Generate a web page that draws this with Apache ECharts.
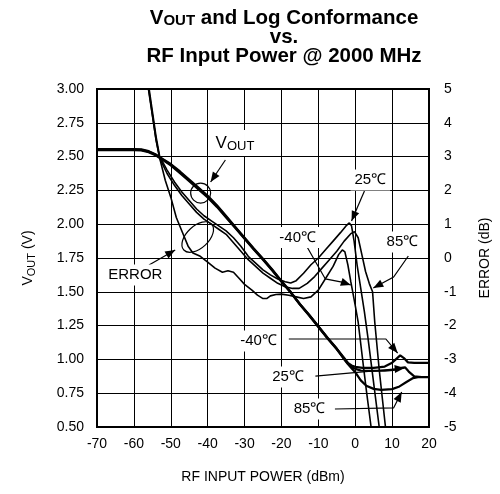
<!DOCTYPE html>
<html><head><meta charset="utf-8">
<script src="https://cdn.jsdelivr.net/npm/echarts@6/dist/echarts.min.js"></script>
<style>html,body{margin:0;padding:0;background:#fff}#c{width:500px;height:494px}</style>
</head><body><div id="c"></div>
<script>
// ---------- data ----------
const xMin = -70, xMax = 20, xStep = 10;
const vMin = 0.5, vMax = 3.0, vStep = 0.25;
const eMin = -5, eMax = 5, eStep = 1;

const voutM40 = [[-70,2.555],[-60,2.555],[-58,2.553],[-56,2.54],[-54,2.515],[-52,2.48],[-50,2.445],[-47.5,2.39],[-45,2.33],[-42.5,2.27],[-40,2.21],[-37.5,2.14],[-35,2.06],[-32.5,1.98],[-30,1.90],[-27.5,1.82],[-25,1.745],[-22.5,1.665],[-20,1.58],[-17.5,1.50],[-15,1.41],[-12.5,1.33],[-10,1.245],[-7.5,1.16],[-5,1.08],[-3,1.01],[-2,0.975],[-1,0.955],[0,0.945],[2,0.937],[5,0.937],[8,0.947],[10,0.975],[11,1.0],[12.2,1.03],[13.2,1.01],[14.3,0.978],[16,0.975],[20,0.975]];
const vout25 = [[-70,2.548],[-60,2.548],[-58,2.546],[-56,2.533],[-54,2.508],[-52,2.472],[-50,2.435],[-47.5,2.378],[-45,2.318],[-42.5,2.258],[-40,2.198],[-37.5,2.128],[-35,2.05],[-32.5,1.972],[-30,1.892],[-27.5,1.812],[-25,1.737],[-22.5,1.658],[-20,1.574],[-17.5,1.494],[-15,1.405],[-12.5,1.325],[-10,1.24],[-7.5,1.155],[-5,1.075],[-3,1.005],[-2,0.97],[-1,0.945],[0,0.93],[1.5,0.918],[4,0.915],[8,0.916],[11,0.925],[12.5,0.937],[13.5,0.942],[14.5,0.91],[16,0.875],[18,0.87],[20,0.87]];
const vout85 = [[-70,2.552],[-60,2.552],[-58,2.55],[-56,2.537],[-54,2.512],[-52,2.476],[-50,2.44],[-47.5,2.384],[-45,2.324],[-42.5,2.264],[-40,2.204],[-37.5,2.134],[-35,2.055],[-32.5,1.976],[-30,1.896],[-27.5,1.816],[-25,1.741],[-22.5,1.662],[-20,1.577],[-17.5,1.497],[-15,1.408],[-12.5,1.328],[-10,1.243],[-7.5,1.158],[-5,1.078],[-3,1.0],[-2,0.965],[-1,0.935],[0,0.905],[1.5,0.845],[3,0.805],[5,0.782],[7,0.775],[10,0.78],[12,0.80],[14,0.835],[15.7,0.862],[17,0.868],[20,0.868]];

const errM40 = [[-58,6.5],[-56,5.0],[-54,3.5],[-53,2.95],[-51.5,2.3],[-50,1.8],[-48.5,1.2],[-47,0.8],[-45.3,0.35],[-44,0.15],[-42,0.05],[-40,-0.12],[-38,-0.3],[-36,-0.42],[-34.5,-0.38],[-33,-0.42],[-31.5,-0.6],[-30,-0.78],[-28,-0.95],[-26.5,-1.1],[-25,-1.2],[-24,-1.2],[-23,-1.12],[-21.5,-1.08],[-20,-1.07],[-18,-1.1],[-16,-1.15],[-14,-1.2],[-12,-1.15],[-10,-0.95],[-8,-0.6],[-6,-0.25],[-4.5,0.1],[-3.5,0.24],[-2.8,0.18],[-2,-0.2],[-1.2,-0.7],[0,-1.4],[0.8,-1.9],[2,-3.0],[3,-3.9],[4.3,-5.0],[5,-5.6]];
const err25 = [[-58,6.6],[-56,5.1],[-54,3.6],[-53,3.0],[-51,2.6],[-49,2.25],[-47,1.95],[-45,1.7],[-43,1.45],[-41,1.25],[-39,1.1],[-37,0.95],[-35,0.8],[-33,0.6],[-31,0.35],[-29,0.05],[-27,-0.15],[-25,-0.35],[-23,-0.5],[-21,-0.62],[-19,-0.7],[-17.5,-0.74],[-16,-0.67],[-14,-0.45],[-12,-0.2],[-10,0.0],[-8,0.25],[-6,0.5],[-4,0.75],[-2.5,0.95],[-1.6,1.04],[-1,0.95],[-0.3,0.5],[0.5,-0.2],[1.5,-0.9],[2.5,-1.6],[3.5,-2.4],[5,-3.7],[6.5,-5.0],[7,-5.5]];
const err85 = [[-58,6.4],[-56,4.95],[-54,3.5],[-53,2.95],[-51,2.5],[-49,2.15],[-47,1.85],[-45,1.6],[-43,1.35],[-41,1.15],[-39,1.0],[-37,0.85],[-35,0.7],[-33,0.45],[-31,0.2],[-29,-0.05],[-27,-0.25],[-25,-0.45],[-23,-0.6],[-21,-0.75],[-19,-0.85],[-17,-0.9],[-15.2,-0.9],[-13,-0.75],[-11,-0.55],[-9,-0.3],[-7,-0.05],[-5,0.2],[-3,0.5],[-1.2,0.72],[-0.2,0.78],[0.8,0.6],[1.8,0.1],[2.8,-0.4],[3.8,-0.75],[4.7,-1.0],[5.3,-1.9],[6.5,-3.3],[8.2,-5.0],[8.8,-5.6]];

// annotation anchors in data units (dBm, V)
const labels = [
  {text:'{n|V}{s|OUT}', at:[-32.6,2.60]},
  {text:'ERROR', at:[-59.6,1.624]},
  {text:'25℃', at:[4.1,2.327]},
  {text:'-40℃', at:[-15.6,1.902]},
  {text:'85℃', at:[12.8,1.868]},
  {text:'-40℃', at:[-26.2,1.136]},
  {text:'25℃', at:[-18.2,0.870]},
  {text:'85℃', at:[-12.4,0.633]}
];
const arrows = [
  [[-35.2,2.475],[-39.2,2.312]],
  [[-55.9,1.698],[-48.8,1.809]],
  [[2.5,2.245],[-1.0,2.024]],
  [[-13.2,1.839],[-8.1,1.595],[-3.6,1.572],[-1.2,1.550]],
  [[14.4,1.765],[10.4,1.609],[4.9,1.528]],
  [[-18,1.151],[8.3,1.151],[11.5,1.047]],
  [[-10.8,0.877],[13.4,0.936]],
  [[-5.5,0.633],[10.4,0.641],[12.6,0.759]]
];
const rings = [
  {at:[-41.9,2.23], rx:10, ry:10, rot:0},
  {at:[-42.7,1.905], rx:19, ry:11, rot:0.75}
];

// ---------- chart ----------
const FONT = '"Liberation Sans", Arial, sans-serif';
const chart = echarts.init(document.getElementById('c'), null, {renderer:'canvas'});
const lineS = (name, data, yi, w) => ({
  name, type:'line', data, yAxisIndex: yi, showSymbol:false, symbol:'none',
  lineStyle:{color:'#000', width:w}, itemStyle:{color:'#000'}, clip:true, z: 3, silent:true
});
chart.setOption({
  animation:false,
  grid:{left:97, right:64, top:89, bottom:67, show:true, borderColor:'#000', borderWidth:2, backgroundColor:'transparent', z:5},
  xAxis:{type:'value', min:xMin, max:xMax, interval:xStep,
    name:'RF INPUT POWER (dBm)', nameLocation:'middle', nameGap:43,
    nameTextStyle:{fontFamily:FONT, fontSize:14, color:'#000'},
    axisLine:{show:false}, axisTick:{show:false},
    axisLabel:{fontFamily:FONT, fontSize:14, color:'#000', margin:10},
    splitLine:{show:true, lineStyle:{color:'#000', width:1}}},
  yAxis:[
    {type:'value', min:vMin, max:vMax, interval:vStep, position:'left',
     name:'{n|V}{s|OUT}{n| (V)}', nameLocation:'middle', nameGap:60,
     nameTextStyle:{fontFamily:FONT, fontSize:14, color:'#000',
       rich:{n:{fontFamily:FONT, fontSize:14, color:'#000', lineHeight:18},
             s:{fontFamily:FONT, fontSize:11, color:'#000', lineHeight:10, verticalAlign:'bottom'}}},
     axisLine:{show:false}, axisTick:{show:false},
     axisLabel:{fontFamily:FONT, fontSize:14, color:'#000', margin:13, formatter:v=>v.toFixed(2)},
     splitLine:{show:true, lineStyle:{color:'#000', width:1}}},
    {type:'value', min:eMin, max:eMax, interval:eStep, position:'right',
     name:'ERROR (dB)', nameLocation:'middle', nameGap:49,
     nameTextStyle:{fontFamily:FONT, fontSize:14, color:'#000'},
     axisLine:{show:false}, axisTick:{show:false},
     axisLabel:{fontFamily:FONT, fontSize:14, color:'#000', margin:15},
     splitLine:{show:false}}
  ],
  series:[
    lineS('VOUT -40', voutM40, 0, 2.2),
    lineS('VOUT 25', vout25, 0, 2.2),
    lineS('VOUT 85', vout85, 0, 2.2),
    lineS('ERR -40', errM40, 1, 1.6),
    lineS('ERR 25', err25, 1, 1.6),
    lineS('ERR 85', err85, 1, 1.6)
  ]
});

const toPx = p => chart.convertToPixel({xAxisIndex:0, yAxisIndex:0}, p);
const g = [];
// title
g.push({type:'text', x:284, y:9, z:100, style:{
  text:'{b|V}{bs|OUT}{b| and Log Conformance}\n{b|vs.}\n{b|RF Input Power @ 2000 MHz}',
  align:'center', verticalAlign:'top', fill:'#000',
  rich:{b:{font:'bold 20.5px '+FONT, lineHeight:19, fill:'#000'},
        bs:{font:'bold 15px '+FONT, lineHeight:11, verticalAlign:'bottom', fill:'#000'}}}});
// rings
rings.forEach(r => {
  const c = toPx(r.at);
  g.push({type:'ellipse', x:c[0], y:c[1], rotation:r.rot, z:50,
    shape:{cx:0, cy:0, rx:r.rx, ry:r.ry}, style:{fill:null, stroke:'#000', lineWidth:1.2}});
});
// arrows
arrows.forEach(a => {
  const pts = a.map(toPx);
  g.push({type:'polyline', z:50, shape:{points:pts}, style:{stroke:'#000', lineWidth:1.2, fill:null}});
  const tip = pts[pts.length-1], prev = pts[pts.length-2];
  const dx = tip[0]-prev[0], dy = tip[1]-prev[1], L = Math.hypot(dx,dy);
  const ux = dx/L, uy = dy/L, nx = -uy, ny = ux, hl = 10, hw = 4;
  const bx = tip[0]-ux*hl, by = tip[1]-uy*hl;
  g.push({type:'polygon', z:51, shape:{points:[tip,[bx+nx*hw,by+ny*hw],[bx-nx*hw,by-ny*hw]]}, style:{fill:'#000'}});
});
// labels
labels.forEach(l => {
  const c = toPx(l.at);
  g.push({type:'text', x:c[0], y:c[1], z:60, style:{
    text:l.text, align:'center', verticalAlign:'middle', fill:'#000',
    font:'15px '+FONT, backgroundColor:'#fff', padding:[3,4],
    rich:{n:{font:'17px '+FONT, lineHeight:20, fill:'#000'},
          s:{font:'13px '+FONT, lineHeight:12, verticalAlign:'bottom', fill:'#000'}}}});
});
chart.setOption({graphic:g});
</script>
</body></html>
